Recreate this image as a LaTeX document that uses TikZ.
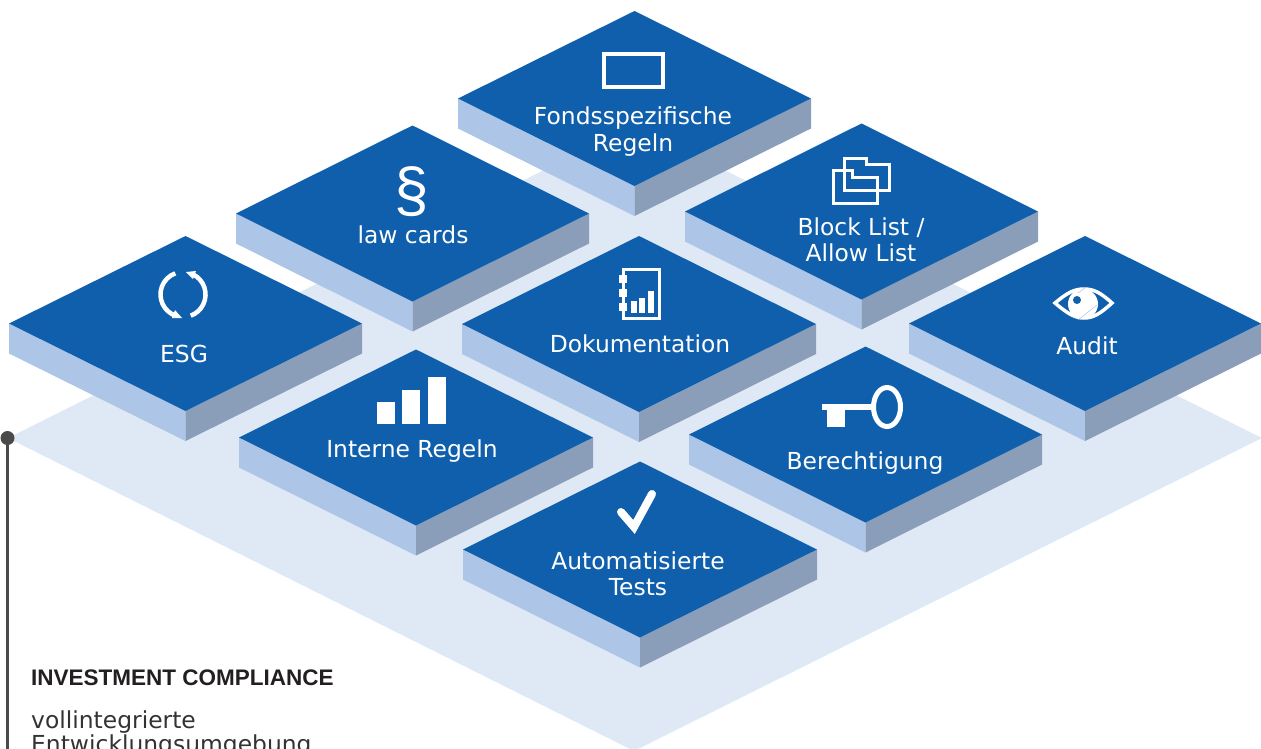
\documentclass[tikz,border=0pt]{standalone}
\usepackage{fontspec}
\setmainfont{DejaVu Sans}
\newfontfamily\headfont{Liberation Sans}
\definecolor{tiletop}{HTML}{0F5FAC}
\definecolor{tileleft}{HTML}{ADC5E7}
\definecolor{tileright}{HTML}{8A9EB9}
\definecolor{basecol}{HTML}{DFE8F5}
\definecolor{linecol}{HTML}{4A4A4A}
\definecolor{textcol}{HTML}{333333}
\definecolor{headcol}{HTML}{231F20}
\tikzset{
  x=1pt,y=-1pt,
  tilelabel/.style={text=white,font=\fontsize{23.4}{26.5}\selectfont,align=center,inner sep=0pt},
  iconline/.style={draw=white,line width=#1,fill=none},
  iconline/.default=3pt,
  iconfill/.style={fill=white,draw=none},
  bodytext/.style={text=textcol,font=\fontsize{23.4}{24}\selectfont,anchor=base west,inner sep=0pt},
  headtext/.style={text=headcol,font=\headfont\bfseries\fontsize{22.5}{24}\selectfont,anchor=base west,inner sep=0pt},
}
% left x, left y, half width, half height
\newcommand{\tile}[4]{%
  \fill[tileleft] (#1,#2) -- ({#1+#3},{#2+#4}) -- ({#1+#3},{#2+#4+30}) -- (#1,{#2+30}) -- cycle;
  \fill[tileright] ({#1+2*#3},#2) -- ({#1+#3},{#2+#4}) -- ({#1+#3},{#2+#4+30}) -- ({#1+2*#3},{#2+30}) -- cycle;
  \fill[tiletop] (#1,#2) -- ({#1+#3},{#2-#4}) -- ({#1+2*#3},#2) -- ({#1+#3},{#2+#4}) -- cycle;
}
\begin{document}
\begin{tikzpicture}
\useasboundingbox (0,0) rectangle (1261,748);
\clip (0,0) rectangle (1261,748);
% base plate
\fill[basecol] (8,438) -- (634,125) -- (1262,438) -- (634,751) -- cycle;
% tiles, back to front
\tile{458}{98.5}{176.5}{87.5}
\tile{236}{213.5}{176.5}{88}
\tile{685}{211.5}{176.5}{88}
\tile{9}{323.5}{176.5}{87.5}
\tile{462}{324}{177}{88}
\tile{909}{323.5}{176}{87.5}
\tile{239}{437.5}{177}{88}
\tile{689}{434.5}{176.5}{88}
\tile{463}{549.5}{177}{88}
% connector
\node[circle,fill=linecol,inner sep=0pt,minimum size=14pt] (dot) at (7.5,438) {};
\coordinate (lineend) at (7.5,760);
\draw[linecol,line width=2.6pt] (dot) -- (lineend);
% labels
\node[tilelabel] (fonds) at (633,131.5) {Fondsspezifische\\Regeln};
\node[tilelabel] (law) at (413,234.5) {law cards};
\node[tilelabel] (block) at (861,240) {Block List /\\Allow List};
\node[tilelabel] (esg) at (184,353.5) {ESG};
\node[tilelabel] (doku) at (640,343.5) {Dokumentation};
\node[tilelabel] (audit) at (1087,345.5) {Audit};
\node[tilelabel] (intern) at (412,451.5) {Interne Regeln};
\node[tilelabel] (berecht) at (865,463.5) {Berechtigung};
\node[tilelabel] (auto) at (638,574) {Automatisierte\\Tests};
\node[text=white,inner sep=0pt,font=\headfont\fontsize{62}{62}\selectfont] (para) at (412,192) {§};
% text block
\node[headtext] (head) at (31,685) {INVESTMENT COMPLIANCE};
\node[bodytext] (body1) at (31,728) {vollintegrierte};
\node[bodytext] (body2) at (31,752) {Entwicklungsumgebung};
% icon: rectangle
\draw[iconline=4pt] (604,54) rectangle (663,87);
% icon: folders
\draw[iconline=3pt] (844.5,158.5) -- (866.5,158.5) -- (866.5,164.5) -- (889.5,164.5) -- (889.5,190.5) -- (844.5,190.5) -- cycle;
\draw[iconline=3pt] (833.5,170.5) -- (852.5,170.5) -- (852.5,177.5) -- (877.5,177.5) -- (877.5,203) -- (833.5,203) -- cycle;
% icon: cycle arrows
\draw[iconline=4.5pt] (192.9,274.3) arc (-64:70:22.5);
\draw[iconline=4.5pt] (175.3,315.6) arc (110:250:22.5);
\fill[white] (186,272) -- (196,271) -- (193,279) -- cycle;
\fill[white] (172,318) -- (182,318) -- (175,310) -- cycle;
% icon: document
\draw[iconline=3pt] (623,269.5) rectangle (659.5,318);
\foreach \yy in {275,289,303} \fill[white] (619,\yy) rectangle (627,{\yy+8});
\fill[white] (631,301) rectangle (637,313);
\fill[white] (639,298) rectangle (645,313);
\fill[white] (648,291) rectangle (654,313);
% icon: eye
\draw[iconline=3.5pt] (1055,303) .. controls (1068,292) and (1075,289) .. (1084,289) .. controls (1093,289) and (1100,292) .. (1112,303) .. controls (1100,314) and (1093,318) .. (1084,318) .. controls (1075,318) and (1068,314) .. (1055,303) -- cycle;
\fill[white] (1083,304) circle[radius=15];
\fill[tiletop] (1077,300) circle[radius=4];
\draw[tileleft,line width=.5pt] (1078,320) -- (1097,305) (1078,293) -- (1085,288);
% icon: bars
\fill[white] (377,402) rectangle (395,424);
\fill[white] (402,390) rectangle (420,424);
\fill[white] (428,377) rectangle (446,424);
% icon: key
\fill[white] (822,404) rectangle (873,410);
\fill[white] (827,410) rectangle (845,427);
\draw[iconline=5pt] (887,407) ellipse[x radius=13.5,y radius=19.5];
% icon: check
\draw[iconline=8pt,line cap=round,line join=miter] (621,512) -- (634,527) -- (652,494);
\end{tikzpicture}
\end{document}
